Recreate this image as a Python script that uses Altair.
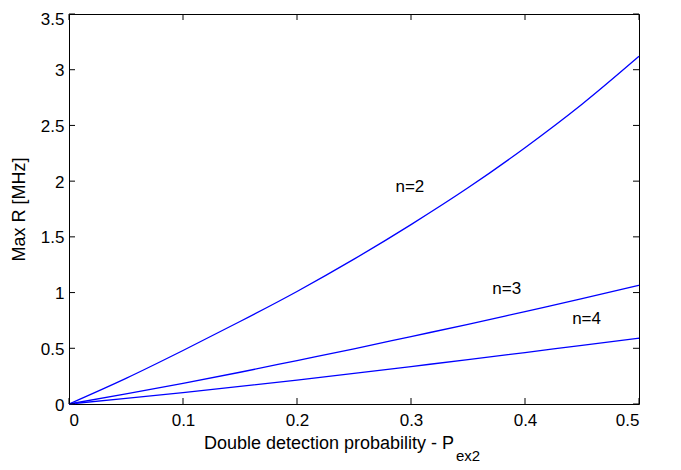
import altair as alt
import pandas as pd

# ---- data ----
p_vals = [0, 0.05, 0.1, 0.15, 0.2, 0.25, 0.3, 0.35, 0.4, 0.45, 0.5]
r_n2 = [0, 0.23, 0.48, 0.74, 1.01, 1.30, 1.61, 1.94, 2.30, 2.69, 3.12]
r_n3 = [0, 0.09, 0.185, 0.285, 0.39, 0.495, 0.605, 0.715, 0.83, 0.945, 1.065]
r_n4 = [0, 0.05, 0.103, 0.158, 0.215, 0.274, 0.336, 0.398, 0.462, 0.526, 0.59]
series_names = ["n=2", "n=3", "n=4"]

label_text = ["n=2", "n=3", "n=4"]
label_x = [0.299, 0.384, 0.454]
label_y = [1.95, 1.03, 0.76]

x_ticks = [0, 0.1, 0.2, 0.3, 0.4, 0.5]
y_ticks = [0, 0.5, 1, 1.5, 2, 2.5, 3, 3.5]

x_title = "Double detection probability - P"
x_title_sub = "ex2"
y_title = "Max R [MHz]"

FONT = "Liberation Sans"
W, H = 570, 390

rows = []
for name, vals in zip(series_names, [r_n2, r_n3, r_n4]):
    for p, r in zip(p_vals, vals):
        rows.append({"p": p, "r": r, "series": name})
df = pd.DataFrame(rows)

xs = alt.Scale(domain=[0, 0.5], nice=False, zero=False)
ys = alt.Scale(domain=[0, 3.5], nice=False, zero=False)

lines = alt.Chart(df).mark_line(color="#0000ff", strokeWidth=1.3, interpolate="monotone").encode(
    x=alt.X("p:Q", scale=xs,
            axis=alt.Axis(values=x_ticks, format="~g", ticks=False, domain=False, grid=False,
                          labelPadding=8, title=None)),
    y=alt.Y("r:Q", scale=ys,
            axis=alt.Axis(values=y_ticks, format="~g", ticks=False, domain=False, grid=False,
                          labelPadding=5,
                          labelOffset={"condition": {"test": "datum.value == 3.5", "value": 5}, "value": 1},
                          title=y_title, titlePadding=12)),
    detail="series:N",
)

labels_df = pd.DataFrame({"t": label_text, "x": label_x, "y": label_y})
labels = alt.Chart(labels_df).mark_text(font=FONT, fontSize=17, color="black").encode(
    x=alt.X("x:Q", scale=xs), y=alt.Y("y:Q", scale=ys), text="t:N"
)

# MATLAB-style inward ticks on all four sides
xt = pd.DataFrame({"x": x_ticks})
yt = pd.DataFrame({"y": y_ticks})
tick_style = dict(color="black", strokeWidth=1)
bottom = alt.Chart(xt).mark_rule(**tick_style).encode(
    x=alt.X("x:Q", scale=xs), y=alt.value(H), y2=alt.value(H - 6))
top = alt.Chart(xt).mark_rule(**tick_style).encode(
    x=alt.X("x:Q", scale=xs), y=alt.value(0), y2=alt.value(6))
left = alt.Chart(yt).mark_rule(**tick_style).encode(
    y=alt.Y("y:Q", scale=ys), x=alt.value(0), x2=alt.value(6))
right = alt.Chart(yt).mark_rule(**tick_style).encode(
    y=alt.Y("y:Q", scale=ys), x=alt.value(W), x2=alt.value(W - 6))

title_main = alt.Chart(pd.DataFrame({"t": [x_title]})).mark_text(
    font=FONT, fontSize=18, color="black", align="center", baseline="middle"
).encode(x=alt.value(260), y=alt.value(H + 40), text="t:N")
title_sub = alt.Chart(pd.DataFrame({"t": [x_title_sub]})).mark_text(
    font=FONT, fontSize=15, color="black", align="left", baseline="middle"
).encode(x=alt.value(387), y=alt.value(H + 52), text="t:N")

chart = alt.layer(lines, labels, bottom, top, left, right, title_main, title_sub).properties(
    width=W, height=H,
    background="white",
    autosize=alt.AutoSizeParams(type="none"),
    padding={"left": 61, "top": 6, "right": 34, "bottom": 62},
).configure_view(stroke="black", strokeWidth=1).configure_axis(
    labelFont=FONT, labelFontSize=17, labelColor="black",
    titleFont=FONT, titleFontSize=18, titleColor="black", titleFontWeight="normal",
)

chart.save("out.html", embed_options={"renderer": "svg", "actions": False})
